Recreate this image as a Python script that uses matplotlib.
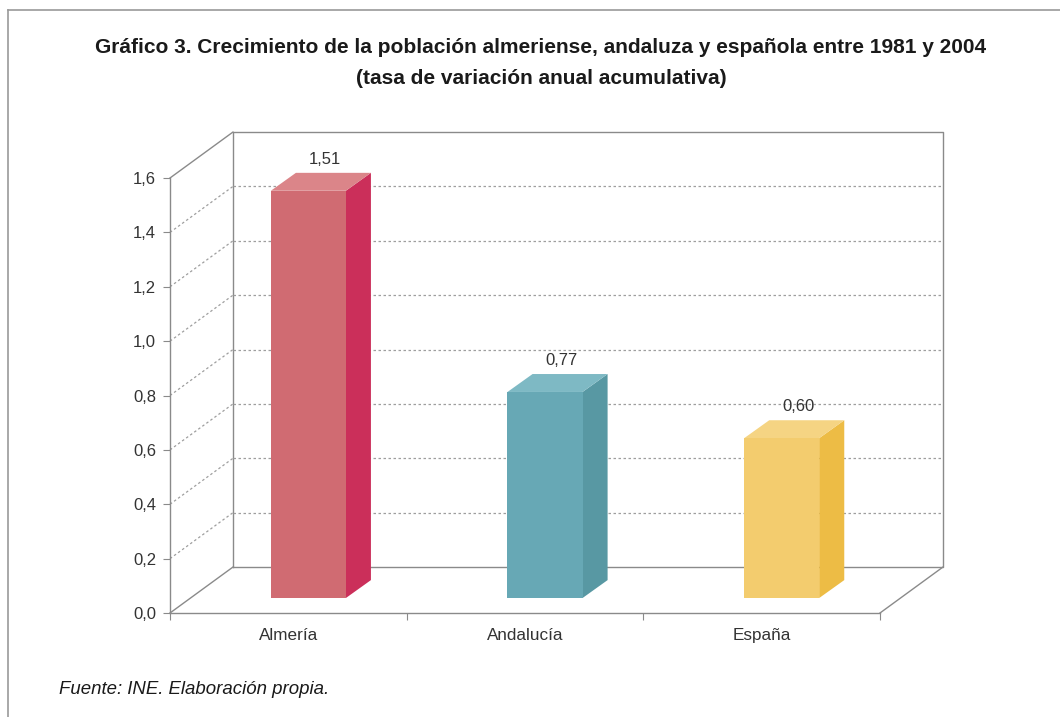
import matplotlib
matplotlib.use("Agg")
import matplotlib.pyplot as plt
from matplotlib.patches import Polygon
from matplotlib.lines import Line2D

# ---- data ----
categories = ["Almería", "Andalucía", "España"]
values = [1.51, 0.77, 0.60]
value_labels = ["1,51", "0,77", "0,60"]
yticks = [0.0, 0.2, 0.4, 0.6, 0.8, 1.0, 1.2, 1.4, 1.6]
ytick_labels = ["0,0", "0,2", "0,4", "0,6", "0,8", "1,0", "1,2", "1,4", "1,6"]

front_colors = ["#D06B72", "#67A8B5", "#F3CC6E"]
side_colors = ["#CB2F5A", "#5898A3", "#EDBC45"]
top_colors = ["#DB8589", "#7EB9C4", "#F5D483"]

title = ("Gráfico 3. Crecimiento de la población almeriense, andaluza y española entre 1981 y 2004\n"
         "(tasa de variación anual acumulativa)")
source = "Fuente: INE. Elaboración propia."

plt.rcParams['font.family'] = ['Liberation Sans', 'DejaVu Sans']

W, H = 1060, 717
fig = plt.figure(figsize=(W / 100, H / 100), dpi=100)
fig.patch.set_facecolor("white")

# outer frame (top and left lines)
fig.add_artist(Line2D([8 / W, 1.0], [1 - 10 / H, 1 - 10 / H], color="#9a9a9a", lw=1.2))
fig.add_artist(Line2D([8 / W, 8 / W], [0, 1 - 10 / H], color="#9a9a9a", lw=1.2))

ax = fig.add_axes([170 / W, 1 - 613 / H, 710 / W, 435 / H])
ax.set_xlim(-0.5, 2.5)
ax.set_ylim(0, 1.6)
ax.set_facecolor("none")

# 3D depth offsets (data units)
DX, DY = 0.266, 0.169
line_c = "#8a8a8a"
grid_c = "#9e9e9e"
x0, x1 = -0.5, 2.5
ymax = 1.6

def ln(xs, ys, **kw):
    ax.add_line(Line2D(xs, ys, clip_on=False, **kw))

# back wall
ln([x0 + DX, x1 + DX, x1 + DX, x0 + DX, x0 + DX],
   [DY, DY, ymax + DY, ymax + DY, DY], color=line_c, lw=1.0)
# left wall top & floor edges
ln([x0, x0 + DX], [ymax, ymax + DY], color=line_c, lw=1.0)
ln([x0, x0 + DX], [0, DY], color=line_c, lw=1.0)
ln([x1, x1 + DX], [0, DY], color=line_c, lw=1.0)
# grid lines
for v in yticks[1:-1]:
    ln([x0 + DX, x1 + DX], [v + DY, v + DY], color=grid_c, lw=0.9, ls=(0, (2, 2)))
    ln([x0, x0 + DX], [v, v + DY], color=grid_c, lw=0.9, ls=(0, (2, 2)))

# bars
off_x, off_y = 0.0845, 0.055
bw = 0.317
bdx, bdy = 0.106, 0.066
for i, (v, lab) in enumerate(zip(values, value_labels)):
    xa = i - bw / 2 + off_x
    xb = i + bw / 2 + off_x
    yb = off_y
    yt = v + off_y - 0.012
    ax.add_patch(Polygon([(xb, yb), (xb + bdx, yb + bdy), (xb + bdx, yt + bdy), (xb, yt)],
                         closed=True, facecolor=side_colors[i], edgecolor="none", clip_on=False, zorder=3))
    ax.add_patch(Polygon([(xa, yt), (xb, yt), (xb + bdx, yt + bdy), (xa + bdx, yt + bdy)],
                         closed=True, facecolor=top_colors[i], edgecolor="none", clip_on=False, zorder=3))
    ax.add_patch(Polygon([(xa, yb), (xb, yb), (xb, yt), (xa, yt)],
                         closed=True, facecolor=front_colors[i], edgecolor="none", clip_on=False, zorder=3))
    ax.text(i + 0.155, yt + bdy + 0.05, lab, ha="center", va="center",
            fontsize=12, color="#333333", zorder=4)

# axes spines / ticks
for s in ["top", "right"]:
    ax.spines[s].set_visible(False)
for s in ["left", "bottom"]:
    ax.spines[s].set_color(line_c)
    ax.spines[s].set_linewidth(1.0)
ax.set_yticks(yticks)
ax.set_yticklabels(ytick_labels)
ax.tick_params(axis="y", length=5, width=0.8, color=line_c, pad=5, labelsize=12, labelcolor="#333333")
ax.set_xticks(range(len(categories)))
ax.set_xticklabels(categories)
ax.tick_params(axis="x", which="major", length=0, pad=11, labelsize=12.3, labelcolor="#333333")
ax.set_xticks([-0.5, 0.5, 1.5, 2.5], minor=True)
ax.tick_params(axis="x", which="minor", length=5, width=0.8, color=line_c)

fig.text(541 / W, 1 - 63 / H, title, ha="center", va="center", fontsize=15,
         fontweight="bold", color="#1a1a1a", linespacing=1.75,
         family=['Liberation Sans Narrow', 'Liberation Sans', 'DejaVu Sans'])
fig.text(59 / W, 1 - 690 / H, source, ha="left", va="center", fontsize=13.4,
         style="italic", color="#1a1a1a")

fig.savefig("out.png", dpi=100)
